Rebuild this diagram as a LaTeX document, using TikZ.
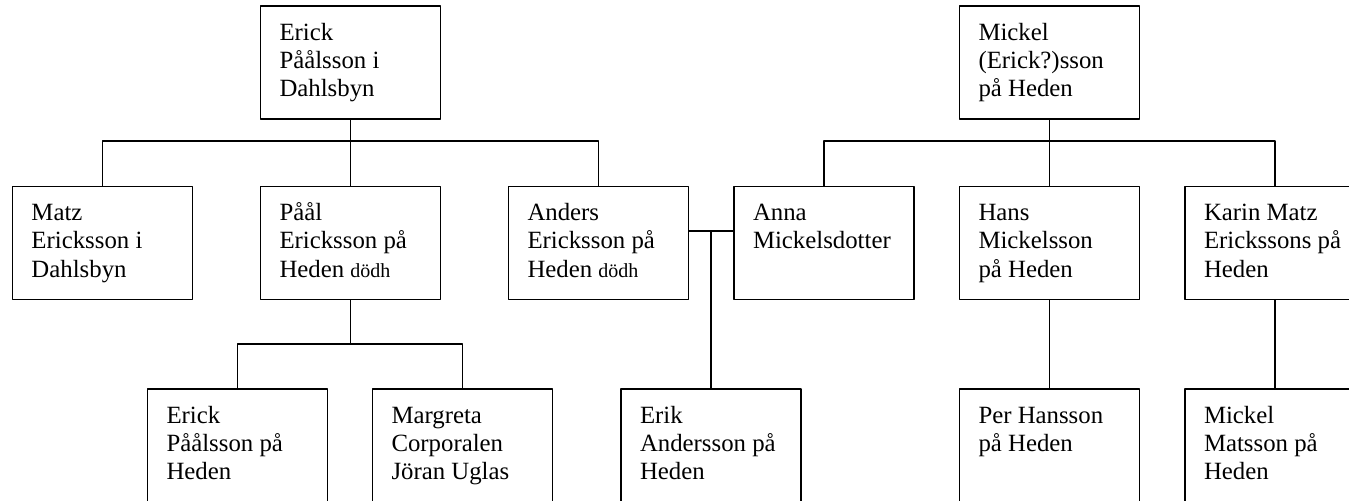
\documentclass[tikz,border=0pt]{standalone}
\usepackage{fontspec}
\setmainfont{Liberation Serif}
\tikzset{
	person/.style={draw, line width=0.8pt, inner xsep=9.5pt, inner ysep=6pt},
	link/.style={line width=0.7pt}
}
\newcommand{\namn}[1]{\parbox[t][44.5pt][t]{71pt}{\fontsize{12.4}{14.15}\selectfont\raggedright\rule{0pt}{11pt}#1}}
\newcommand{\dodh}{{\fontsize{10}{11}\selectfont dödh}}
\begin{document}
\begin{tikzpicture}[x=0.5pt, y=-0.5pt, line join=round, line cap=round]
	\useasboundingbox (0,0) rectangle (1349,500);
	%%Nivå 1
	\node[person] (erick) at (350.5,62.5) {\namn{Erick\\Påålsson i\\Dahlsbyn}};
	\node[person] (mickel) at (1049.5,62.5) {\namn{Mickel\\(Erick?)sson\\på Heden}};
	%%Nivå 2
	\node[person] (matz) at (102.5,243) {\namn{Matz\\Ericksson i\\Dahlsbyn}};
	\node[person] (paal) at (350.5,243) {\namn{Påål\\Ericksson på\\Heden \dodh}};
	\node[person] (anders) at (598.5,243) {\namn{Anders\\Ericksson på\\Heden \dodh}};
	\node[person] (anna) at (824,243) {\namn{Anna\\Mickelsdotter}};
	\node[person] (hans) at (1049.5,243) {\namn{Hans\\Mickelsson\\på Heden}};
	\node[person] (karin) at (1275,243) {\namn{Karin Matz\\Erickssons på\\Heden}};
	%%Nivå 3
	\node[person] (erickp) at (237.5,445.5) {\namn{Erick\\Påålsson på\\Heden}};
	\node[person] (margreta) at (462.5,445.5) {\namn{Margreta\\Corporalen\\Jöran Uglas}};
	\node[person] (erik) at (711,445.5) {\namn{Erik\\Andersson på\\Heden}};
	\node[person] (per) at (1049.5,445.5) {\namn{Per Hansson\\på Heden}};
	\node[person] (mickelm) at (1275,445.5) {\namn{Mickel\\Matsson på\\Heden}};
	%%Linjer
	\coordinate (bar1) at (0,141);
	\coordinate (bar2) at (0,344);
	\coordinate (gift) at (711,231);
	\draw[link] (erick.south) -- (paal.north);
	\draw[link] (matz.north) |- (bar1 -| anders.north) -- (anders.north);
	\draw[link] (mickel.south) -- (hans.north);
	\draw[link] (anna.north) |- (bar1 -| karin.north) -- (karin.north);
	\draw[link] (paal.south) -- (paal.south |- bar2);
	\draw[link] (erickp.north) |- (bar2 -| margreta.north) -- (margreta.north);
	\draw[link] (anders.east |- gift) -- (anna.west |- gift);
	\draw[link] (gift) -- (erik.north);
	\draw[link] (hans.south) -- (per.north);
	\draw[link] (karin.south) -- (mickelm.north);
\end{tikzpicture}
\end{document}
